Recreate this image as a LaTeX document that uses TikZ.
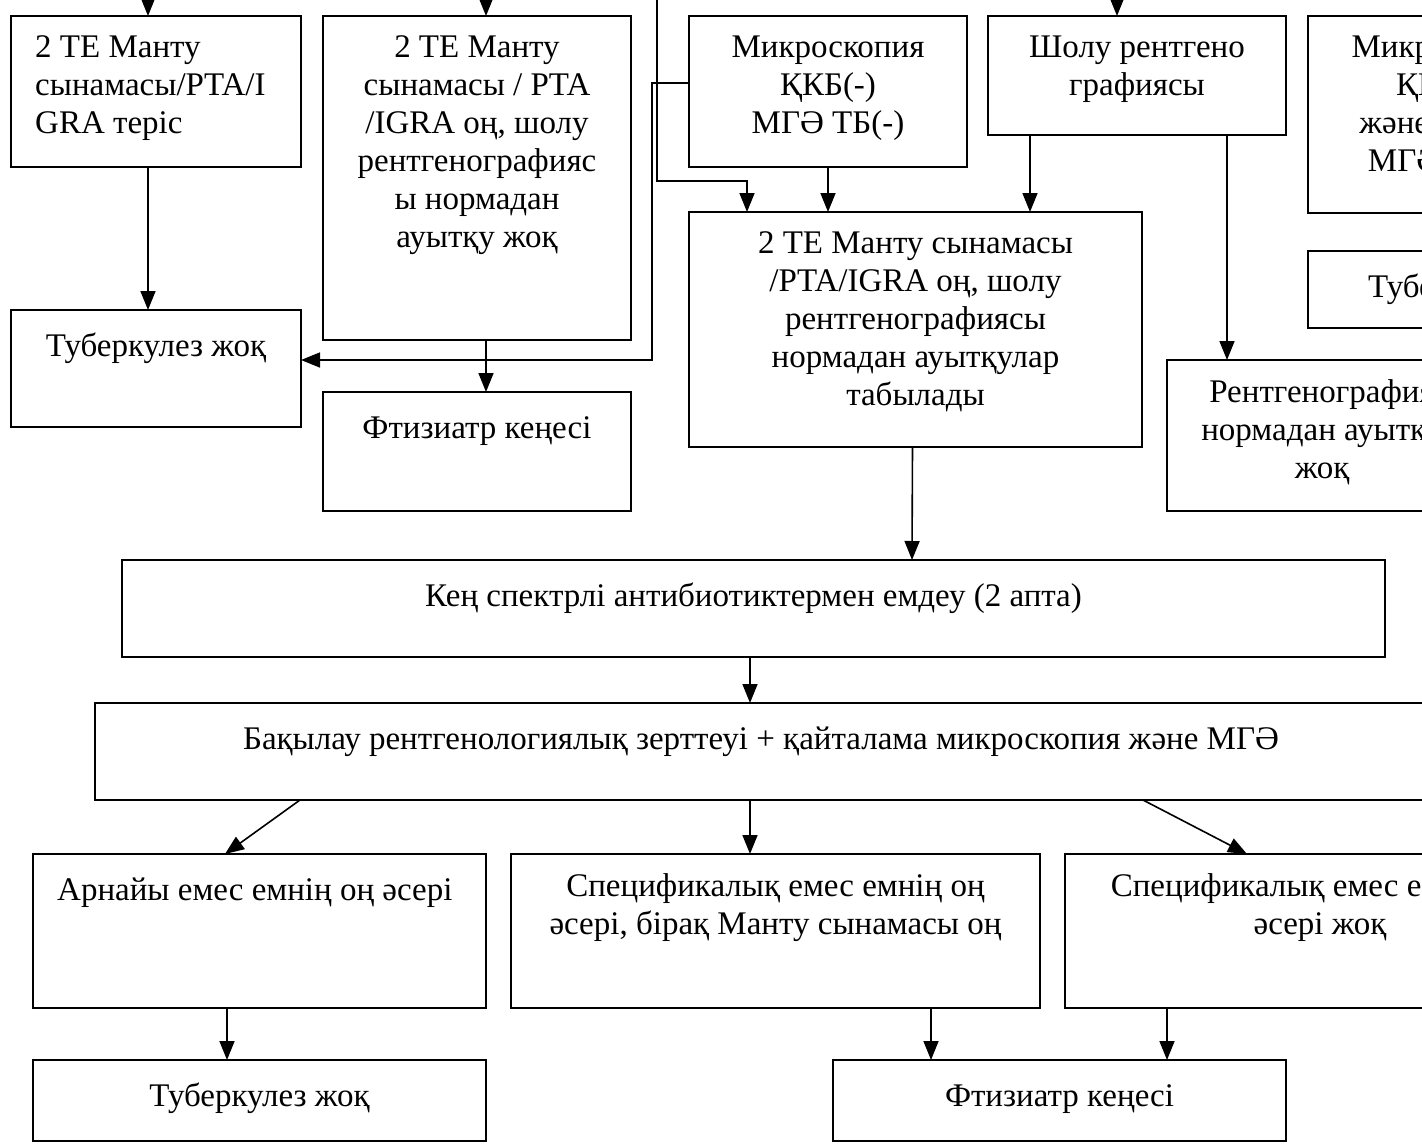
\documentclass[tikz,border=0pt]{standalone}
\usepackage{fontspec}
\setmainfont{Liberation Serif}
\usepackage{tikz}
\usetikzlibrary{arrows.meta,positioning}
\newcommand{\kzfont}{\fontsize{33}{38}\selectfont}

\begin{document}
\begin{tikzpicture}[x=1pt,y=-1pt,
  flowbox/.style={draw, line width=2.2pt, anchor=north west, inner sep=0pt, outer sep=0pt},
  txt/.style={anchor=north, align=center, font=\kzfont, inner sep=0pt, execute at begin node=\strut},
  arr/.style={-{Triangle[length=19pt,width=15pt]}, line width=1.6pt}]
\def\dt{19.5pt} % Abstand Text unter Kastenoberkante

\useasboundingbox (0,0) rectangle (1422,1146);
\clip (0,0) rectangle (1422,1146);

% =========================================================
% obere Reihe
% =========================================================
\node[flowbox, minimum width=290pt, minimum height=151pt] (mA) at (11,16) {};
\node[txt, anchor=north west, align=left] (tA) at ([xshift=24pt,yshift=-\dt]mA.north west)
  {2 ТЕ Манту\\сынамасы/PTA/I\\GRA теріс};

\node[flowbox, minimum width=308pt, minimum height=324pt] (mB) at (323,16) {};
\node[txt, below=\dt of mB.north] (tB)
  {2 ТЕ Манту\\сынамасы / PTA\\/IGRA оң, шолу\\рентгенографияс\\ы нормадан\\ауытқу жоқ};

\node[flowbox, minimum width=278pt, minimum height=151pt] (mC) at (689,16) {};
\node[txt, below=\dt of mC.north] (tC) {Микроскопия\\ҚКБ(-)\\МГӘ ТБ(-)};

\node[flowbox, minimum width=298pt, minimum height=119pt] (mD) at (988,16) {};
\node[txt, below=\dt of mD.north] (tD) {Шолу рентгено\\графиясы};

\node[flowbox, minimum width=280pt, minimum height=197pt] (mE) at (1308,16) {};
\node[txt, below=\dt of mE.north] (tE) {Микроскопия\\ҚКБ(+)\\және/немесе\\МГӘ ТБ(+)};

\node[flowbox, minimum width=344pt, minimum height=77pt] (mF) at (1308,251) {};
\node[txt, anchor=north west] (tF) at ([xshift=60pt,yshift=-\dt]mF.north west) {Туберкулез жоқ};

% =========================================================
% zweite Reihe
% =========================================================
\node[flowbox, minimum width=290pt, minimum height=117pt] (mG) at (11,310) {};
\node[txt, below=\dt of mG.north] (tG) {Туберкулез жоқ};

\node[flowbox, minimum width=308pt, minimum height=119pt] (mH) at (323,392) {};
\node[txt, below=\dt of mH.north] (tH) {Фтизиатр кеңесі};

\node[flowbox, minimum width=453pt, minimum height=235pt] (mI) at (689,212) {};
\node[txt, below=\dt of mI.north] (tI)
  {2 ТЕ Манту сынамасы\\/PTA/IGRA оң, шолу\\рентгенографиясы\\нормадан ауытқулар\\табылады};

\node[flowbox, minimum width=310pt, minimum height=151pt] (mJ) at (1167,360) {};
\node[txt, below=\dt of mJ.north] (tJ) {Рентгенография\\нормадан ауытқу\\жоқ};

% =========================================================
% Behandlung und Kontrolle
% =========================================================
\node[flowbox, minimum width=1263pt, minimum height=97pt] (mK) at (122,560) {};
\node[txt, below=\dt of mK.north] (tK) {Кең спектрлі антибиотиктермен емдеу (2 апта)};

\node[flowbox, minimum width=1332pt, minimum height=97pt] (mL) at (95,703) {};
\node[txt, below=\dt of mL.north] (tL)
  {Бақылау рентгенологиялық зерттеуі + қайталама микроскопия және МГӘ};

% =========================================================
% untere Reihe
% =========================================================
\node[flowbox, minimum width=453pt, minimum height=154pt] (mM) at (33,854) {};
\node[txt, anchor=north west] (tM) at ([xshift=24pt,yshift=-\dt]mM.north west) {Арнайы емес емнің оң әсері};

\node[flowbox, minimum width=529pt, minimum height=154pt] (mN) at (511,854) {};
\node[txt, below=\dt of mN.north] (tN) {Спецификалық емес емнің оң\\әсері, бірақ Манту сынамасы оң};

\node[flowbox, minimum width=510pt, minimum height=154pt] (mO) at (1065,854) {};
\node[txt, below=\dt of mO.north] (tO) {Спецификалық емес емнің оң\\әсері жоқ};

\node[flowbox, minimum width=453pt, minimum height=81pt] (mP) at (33,1060) {};
\node[txt, below=\dt of mP.north] (tP) {Туберкулез жоқ};

\node[flowbox, minimum width=453pt, minimum height=81pt] (mQ) at (833,1060) {};
\node[txt, below=\dt of mQ.north] (tQ) {Фтизиатр кеңесі};

% =========================================================
% Pfeile
% =========================================================
\coordinate (inA) at (148,0);
\coordinate (inB) at (486,0);
\coordinate (inD) at (1117,0);
\coordinate (inL) at (657,0);
\coordinate (kL) at (747,181);
\coordinate (kC) at (652,360);

\draw[arr] (inA) -- (inA |- mA.north);
\draw[arr] (inB) -- (inB |- mB.north);
\draw[arr] (inD) -- (inD |- mD.north);
\draw[arr] (inL) |- (kL) -- (kL |- mI.north);
% Mikroskopie negativ -> kein TB
\draw[arr] ([yshift=8.5pt]mC.west) -| (kC) -- (kC -| mG.east);

\draw[arr] ([xshift=-8pt]mA.south) -- ([xshift=-8pt]mG.north);
\draw[arr] ([xshift=9pt]mB.south) -- ([xshift=9pt]mH.north);
\draw[arr] (mC.south) -- (mC.south |- mI.north);
\draw[arr] ([xshift=42pt]mD.south west) -- ([xshift=341pt]mI.north west);
\draw[arr] ([xshift=239pt]mD.south west) -- ([xshift=60pt]mJ.north west);

\draw[arr] ([xshift=-3pt]mI.south) -- ([xshift=790pt]mK.north west);
\draw[arr] ([xshift=628pt]mK.south west) -- ([xshift=655pt]mL.north west);

\draw[arr] ([xshift=205pt]mL.south west) -- ([xshift=192pt]mM.north west);
\draw[arr] ([xshift=655pt]mL.south west) -- ([xshift=239pt]mN.north west);
\draw[arr] ([xshift=1048pt]mL.south west) -- ([xshift=182pt]mO.north west);

\draw[arr] ([xshift=194pt]mM.south west) -- ([xshift=194pt]mP.north west);
\draw[arr] ([xshift=420pt]mN.south west) -- ([xshift=98pt]mQ.north west);
\draw[arr] ([xshift=102pt]mO.south west) -- ([xshift=334pt]mQ.north west);

\end{tikzpicture}
\end{document}
